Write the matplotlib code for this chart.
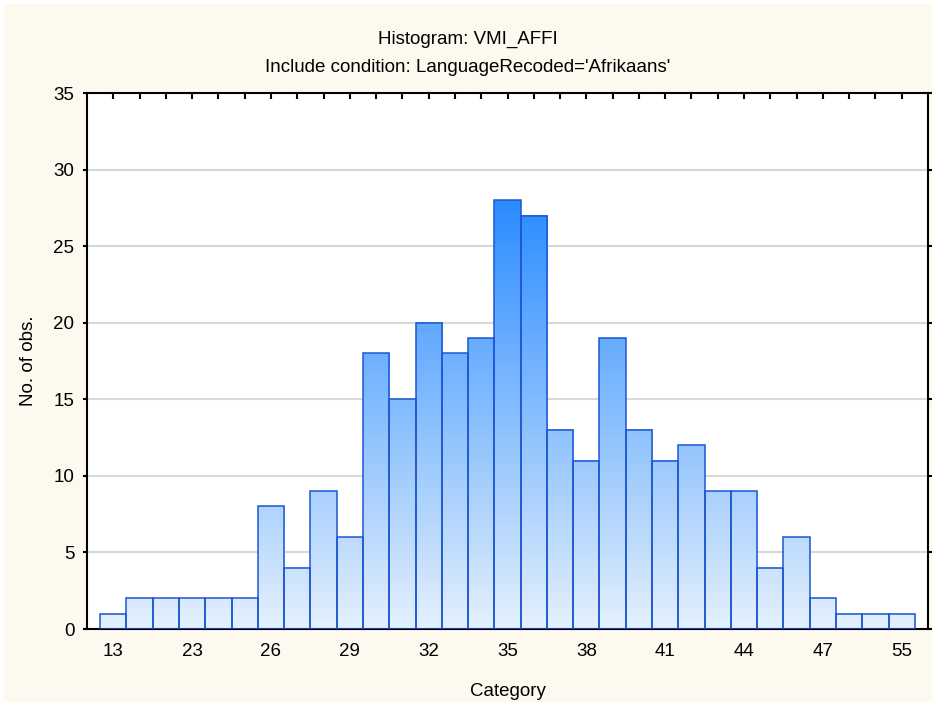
import numpy as np
import matplotlib
matplotlib.use('Agg')
import matplotlib.pyplot as plt
from matplotlib.colors import LinearSegmentedColormap
from matplotlib.patches import Rectangle

counts = [1, 2, 2, 2, 2, 2, 8, 4, 9, 6, 18, 15, 20, 18, 19, 28, 27,
          13, 11, 19, 13, 11, 12, 9, 9, 4, 6, 2, 1, 1, 1]
tick_pos = [0, 3, 6, 9, 12, 15, 18, 21, 24, 27, 30]
tick_labels = ['13', '23', '26', '29', '32', '35', '38', '41', '44', '47', '55']

plt.rcParams['font.family'] = ['Liberation Sans', 'DejaVu Sans']
plt.rcParams['font.size'] = 13.5

fig = plt.figure(figsize=(9.36, 7.06), dpi=100, facecolor='white')
fig.patches.append(Rectangle((4 / 936, 4 / 706), 1 - 8 / 936, 1 - 8 / 706,
                             transform=fig.transFigure, facecolor='#fdf9ef',
                             edgecolor='none', zorder=-10))
ax = fig.add_axes([87 / 936, 1 - 629 / 706, (928 - 87) / 936, (629 - 93) / 706])
ax.set_facecolor('white')

cmap = LinearSegmentedColormap.from_list('blu', ['#e4f0fd', '#2b8cff'])
x = np.arange(len(counts))
for xi, h in zip(x, counts):
    grad = np.linspace(0, h, 200).reshape(-1, 1)
    ax.imshow(grad, extent=[xi - 0.5, xi + 0.5, 0, h], origin='lower',
              aspect='auto', cmap=cmap, vmin=0, vmax=28, zorder=2)
ax.bar(x, counts, width=1.0, fill=False, edgecolor='#1d56d2', linewidth=1.1, zorder=3)

ax.set_xlim(-1, len(counts))
ax.set_ylim(0, 35)
ax.set_yticks(range(0, 36, 5))
ax.set_xticks(tick_pos)
ax.set_xticklabels(tick_labels)
ax.set_xticks(x, minor=True)
ax.yaxis.grid(True, color='#d8d8d8', linewidth=1.5, zorder=0)
ax.set_axisbelow(True)

ax.tick_params(axis='x', which='both', direction='in', length=4, width=1.5,
               top=True, pad=10)
ax.tick_params(axis='y', direction='out', length=3, width=1.5, right=True, pad=6)
for s in ax.spines.values():
    s.set_linewidth(1.5)

ax.set_xlabel('Category', labelpad=17)
ax.set_ylabel('No. of obs.', labelpad=12)
fig.text(0.5, 1 - 39 / 706, 'Histogram: VMI_AFFI', ha='center', va='center')
fig.text(0.5, 1 - 68 / 706, "Include condition: LanguageRecoded='Afrikaans'",
         ha='center', va='center')

fig.savefig('out.png', dpi=100, facecolor=fig.get_facecolor())
